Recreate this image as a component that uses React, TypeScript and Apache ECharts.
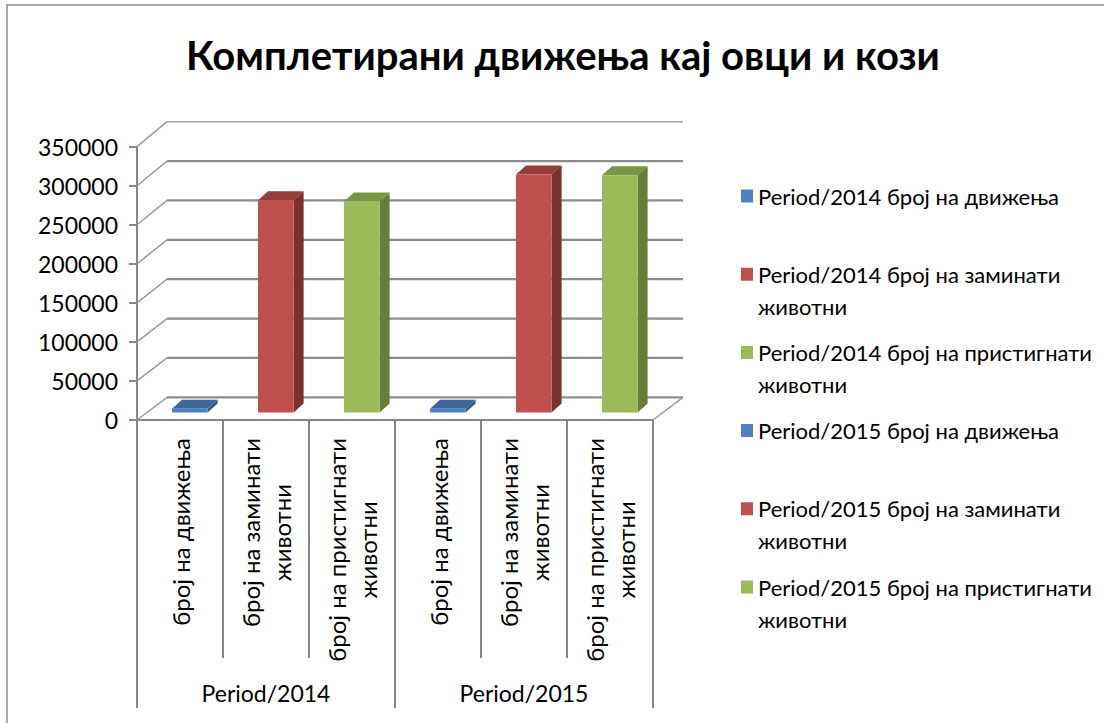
import React, { useEffect, useRef } from 'react';
import * as echarts from 'echarts';

const chartTitle = 'Комплетирани движења кај овци и кози';
const groups = ['Period/2014', 'Period/2015'];
const measures = ['број на движења', 'број на заминати животни', 'број на пристигнати животни'];
const values2014 = [5000, 272000, 270500];
const values2015 = [5000, 305000, 304000];
const yTicks = [0, 50000, 100000, 150000, 200000, 250000, 300000, 350000];

const frontColors = ['#4F81BD', '#C0504D', '#9BBB59'];
const topColors = ['#3D679A', '#963C3A', '#7A9544'];
const sideColors = ['#335885', '#7C302E', '#667E37'];

const FONT = 'Lato';
const GRAY = '#868686';
// depth geometry (pixels)
const WALL_DX = 30;
const WALL_DY0 = -22.7;
const WALL_DY1 = -25;
const BAR_OFF_X = 9.8;
const BAR_OFF_Y = -7.4;
const BAR_DX = 10;
const BAR_DY = -9;
const BAR_FRAC = 0.414;
// legend square placed at the top of a taller icon box so it lines up with the first text line
const LEGEND_ICON = 'path://M0,0L12,0L12,13L0,13Z M0,45L0.01,45L0.01,45.01Z';

const wrap = (s: string): string[] => {
  const w = s.split(' ');
  return w.length > 3 ? [w.slice(0, -1).join(' '), w[w.length - 1]] : [s];
};

export default function App() {
  const ref = useRef<HTMLDivElement>(null);
  useEffect(() => {
    if (!ref.current) return;
    const chart = echarts.init(ref.current, undefined, { renderer: 'svg' });
    const allValues = [values2014, values2015];
    const categories: string[] = [];
    groups.forEach(() => measures.forEach((m) => categories.push(m)));

    const legendText: Record<string, string> = {};
    const legendNames: string[] = [];
    const barSeries: any[] = [];
    groups.forEach((g, gi) => {
      measures.forEach((m, mi) => {
        const name = `${g} ${m}`;
        const lines = wrap(m);
        legendText[name] = `${g} ${lines[0]}\n${lines[1] ?? ' '}`;
        legendNames.push(name);
        const idx = gi * measures.length + mi;
        barSeries.push({
          type: 'custom',
          name,
          z: 3,
          itemStyle: { color: frontColors[mi] },
          data: [[idx, allValues[gi][mi]]],
          encode: { x: 0, y: 1 },
          renderItem: (params: any, api: any) => {
            const ci = api.value(0);
            const v = api.value(1);
            const base = api.coord([ci, 0]);
            const top = api.coord([ci, v]);
            const band = api.size([1, 0])[0];
            const w = band * BAR_FRAC;
            const x0 = base[0] - w / 2 + BAR_OFF_X;
            const x1 = x0 + w;
            const yb = base[1] + BAR_OFF_Y;
            const yt = top[1] + BAR_OFF_Y;
            return {
              type: 'group',
              children: [
                {
                  type: 'polygon',
                  shape: { points: [[x0, yt], [x1, yt], [x1 + BAR_DX, yt + BAR_DY], [x0 + BAR_DX, yt + BAR_DY]] },
                  style: { fill: topColors[mi] },
                },
                {
                  type: 'polygon',
                  shape: { points: [[x1, yb], [x1, yt], [x1 + BAR_DX, yt + BAR_DY], [x1 + BAR_DX, yb + BAR_DY]] },
                  style: { fill: sideColors[mi] },
                },
                {
                  type: 'rect',
                  shape: { x: x0, y: yt, width: w, height: yb - yt },
                  style: { fill: frontColors[mi] },
                },
              ],
            };
          },
        });
      });
    });

    const maxTick = yTicks[yTicks.length - 1];
    const wallSeries = {
      type: 'custom',
      name: 'walls',
      z: 1,
      silent: true,
      data: yTicks.map((v) => [0, v]),
      encode: { x: 0, y: 1 },
      renderItem: (params: any, api: any) => {
        const v = api.value(1);
        const cs = params.coordSys;
        const y = api.coord([0, v])[1];
        const dy = WALL_DY0 + (WALL_DY1 - WALL_DY0) * (v / maxTick);
        const xl = cs.x;
        const xr = cs.x + cs.width;
        const children: any[] = [
          {
            type: 'line',
            shape: { x1: xl, y1: y, x2: xl + WALL_DX, y2: y + dy },
            style: { stroke: '#9a9a9a', lineWidth: 1.5 },
          },
          {
            type: 'line',
            shape: { x1: xl + WALL_DX, y1: y + dy, x2: xr + WALL_DX, y2: y + dy },
            style: { stroke: v === maxTick ? '#a6a6a6' : '#8c8c8c', lineWidth: v === maxTick ? 1.5 : 2.2 },
          },
        ];
        if (v === 0) {
          children.push({
            type: 'line',
            shape: { x1: xr, y1: y, x2: xr + WALL_DX, y2: y + dy },
            style: { stroke: '#9a9a9a', lineWidth: 1.5 },
          });
        }
        return { type: 'group', children };
      },
    };

    const catFont = { fontSize: 24, fontFamily: FONT, color: '#000', lineHeight: 31 };

    const option: any = {
      animation: false,
      backgroundColor: '#ffffff',
      title: {
        text: chartTitle,
        left: 558,
        top: 30,
        textAlign: 'center',
        textStyle: { fontSize: 40, fontWeight: 'bold', fontFamily: FONT, color: '#000' },
      },
      legend: {
        orient: 'vertical',
        left: 741,
        top: 180,
        padding: 0,
        itemWidth: 12,
        itemHeight: 45,
        itemGap: 14.2,
        icon: LEGEND_ICON,
        data: legendNames,
        formatter: (name: string) => legendText[name] ?? name,
        textStyle: { fontSize: 22, fontFamily: FONT, color: '#000', lineHeight: 32 },
        selectedMode: false,
      },
      grid: { left: 137, top: 146.7, width: 516, height: 273.3 },
      xAxis: [
        {
          type: 'category',
          data: categories,
          boundaryGap: true,
          axisLine: { show: true, lineStyle: { color: GRAY, width: 2 } },
          axisTick: { show: true, interval: 0, length: 238, lineStyle: { color: GRAY, width: 2 } },
          axisLabel: {
            interval: 0,
            rotate: 90,
            margin: 18,
            ...catFont,
            formatter: (value: string) => {
              const lines = wrap(value);
              return lines.length > 1 ? lines.map((l) => `{c|${l}}`).join('\n') : value;
            },
            rich: { c: { ...catFont, align: 'center' } },
          },
          splitLine: { show: false },
        },
        {
          type: 'category',
          data: groups,
          position: 'bottom',
          boundaryGap: true,
          axisLine: { show: false },
          axisTick: { show: true, interval: 0, length: 288, lineStyle: { color: GRAY, width: 2 } },
          axisLabel: { interval: 0, margin: 261, fontSize: 23, fontFamily: FONT, color: '#000' },
          splitLine: { show: false },
        },
      ],
      yAxis: {
        type: 'value',
        min: 0,
        max: maxTick,
        interval: 50000,
        axisLine: { show: true, lineStyle: { color: GRAY, width: 2 } },
        axisTick: { show: true, length: 8, lineStyle: { color: GRAY, width: 2 } },
        axisLabel: {
          fontSize: 23,
          fontFamily: FONT,
          color: '#000',
          margin: 19,
          formatter: (v: number) => String(v),
        },
        splitLine: { show: false },
      },
      graphic: [
        {
          type: 'rect',
          z: -10,
          silent: true,
          shape: { x: 7, y: 5, width: 1300, height: 900 },
          style: { fill: 'none', stroke: '#8a8a8a', lineWidth: 1.5 },
        },
      ],
      series: [wallSeries, ...barSeries],
    };
    chart.setOption(option);
    return () => chart.dispose();
  }, []);
  return (
    <div
      ref={ref}
      style={{ position: 'fixed', left: 0, top: 0, width: 1104, height: 723, background: '#fff' }}
    />
  );
}
